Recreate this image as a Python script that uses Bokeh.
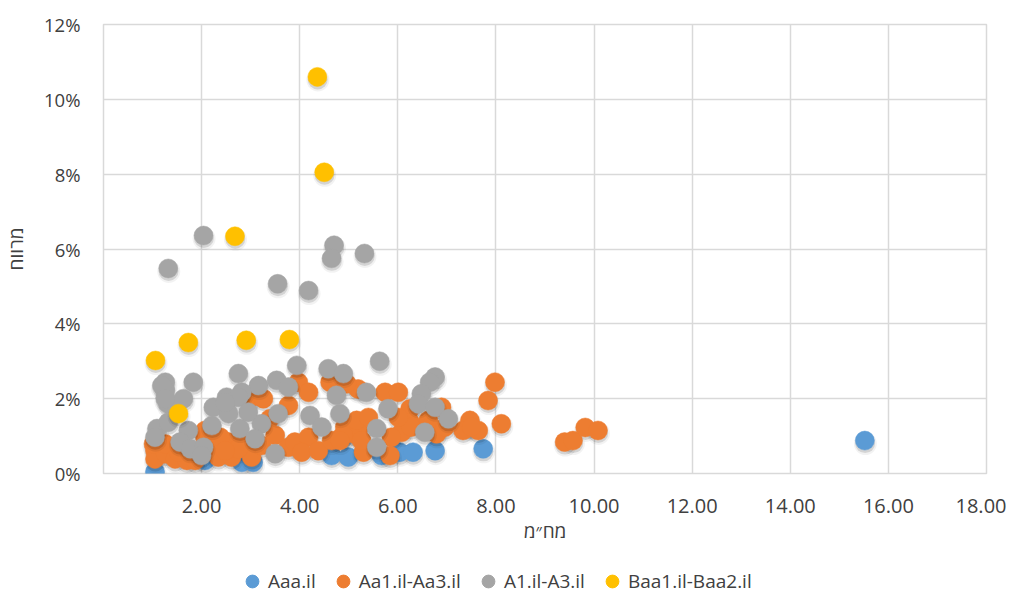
from bokeh.plotting import figure
from bokeh.layouts import column
from bokeh.models import (ColumnDataSource, FixedTicker, NumeralTickFormatter,
                          Legend, LegendItem, Range1d)
from bokeh.transform import dodge
from bokeh.embed import file_html
from bokeh.resources import INLINE

# ---------------- data ----------------
series_names = ["Aaa.il", "Aa1.il-Aa3.il", "A1.il-A3.il", "Baa1.il-Baa2.il"]
series_colors = ["#5B9BD5", "#ED7D31", "#A5A5A5", "#FFC000"]

aaa_x = [1.05, 2.07, 2.82, 3.05, 4.65, 4.99, 5.67, 6.04, 6.31, 6.76, 7.74, 15.52]
aaa_y = [0.0005, 0.0035, 0.0030, 0.0030, 0.0048, 0.0044, 0.0048, 0.0057, 0.0057, 0.0061, 0.0066, 0.0088]

aa_x = [3.97, 4.18, 3.02, 3.26, 3.77, 4.62, 4.92, 1.05, 1.05, 1.26,
        1.46, 1.70, 1.87, 2.34, 2.61, 3.02, 3.22, 3.50, 3.39, 3.77,
        3.90, 4.18, 4.04, 4.38, 4.65, 4.85, 5.12, 2.21, 2.55, 2.82,
        2.07, 1.26, 1.02, 2.07, 2.38, 2.75, 2.48, 1.53,
        7.98, 7.84, 8.11, 7.47, 7.33, 7.64, 7.50, 9.40, 5.74, 6.01,
        5.19, 4.96, 6.25, 6.89, 6.79, 6.62, 6.25, 6.08, 5.87, 5.19,
        4.89, 5.30, 5.84, 5.16, 5.40, 6.27, 6.96, 4.82, 5.26, 6.01,
        9.57, 9.82, 10.08]
aa_y = [0.0244, 0.0217, 0.0204, 0.0200, 0.0182, 0.0244, 0.0124, 0.0061, 0.0039, 0.0053,
        0.0039, 0.0035, 0.0035, 0.0044, 0.0044, 0.0044, 0.0075, 0.0102, 0.0146, 0.0070,
        0.0084, 0.0097, 0.0057, 0.0061, 0.0088, 0.0097, 0.0106, 0.0088, 0.0084, 0.0079,
        0.0097, 0.0079, 0.0079, 0.0115, 0.0097, 0.0066, 0.0061, 0.0057,
        0.0244, 0.0195, 0.0133, 0.0142, 0.0115, 0.0115, 0.0124, 0.0084, 0.0217, 0.0217,
        0.0226, 0.0240, 0.0173, 0.0177, 0.0106, 0.0142, 0.0137, 0.0110, 0.0097, 0.0115,
        0.0102, 0.0057, 0.0048, 0.0142, 0.0150, 0.0124, 0.0124, 0.0088, 0.0088, 0.0150,
        0.0088, 0.0123, 0.0115]

a_x = [2.04, 1.32, 4.70, 4.65, 3.55, 4.18, 5.32, 5.63,
       1.26, 1.83, 1.26, 2.75, 3.16, 3.53, 3.77, 3.94, 4.58, 4.89,
       4.75, 4.82, 1.32, 1.63, 2.24, 2.51, 2.55, 2.82, 3.56, 4.21,
       4.45, 3.22, 2.78, 3.09, 2.21, 1.09, 1.05, 1.32, 1.73, 1.56,
       1.77, 2.04, 3.50, 2.00,
       1.19, 1.26, 2.75, 2.48, 2.95,
       5.36, 5.80, 6.76, 6.65, 6.48, 6.42, 6.76, 7.03, 5.57, 6.55, 5.57]
a_y = [0.0636, 0.0548, 0.0610, 0.0575, 0.0507, 0.0489, 0.0588, 0.0300,
       0.0244, 0.0244, 0.0222, 0.0267, 0.0235, 0.0249, 0.0231, 0.0289, 0.0280, 0.0267,
       0.0209, 0.0160, 0.0186, 0.0200, 0.0177, 0.0204, 0.0160, 0.0217, 0.0160, 0.0155,
       0.0124, 0.0133, 0.0120, 0.0093, 0.0128, 0.0120, 0.0097, 0.0137, 0.0115, 0.0084,
       0.0066, 0.0070, 0.0053, 0.0048,
       0.0235, 0.0200, 0.0204, 0.0190, 0.0164,
       0.0217, 0.0173, 0.0258, 0.0244, 0.0213, 0.0186, 0.0177, 0.0146, 0.0120, 0.0110, 0.0070]

baa_x = [1.06, 1.53, 1.73, 2.68, 2.91, 3.79, 4.36, 4.50]
baa_y = [0.0302, 0.0160, 0.0350, 0.0634, 0.0356, 0.0358, 0.1060, 0.0805]

x_ticks = [2, 4, 6, 8, 10, 12, 14, 16, 18]
y_ticks = [0, 0.02, 0.04, 0.06, 0.08, 0.10, 0.12]

x_title = "מח\u05F4מ"
y_title = "מרווח"

# ---------------- main figure ----------------
X_MIN, X_MAX = 0, 18
Y_MIN, Y_MAX = 0, 0.12
FRAME_W, FRAME_H = 883, 449

p = figure(frame_width=FRAME_W, frame_height=FRAME_H,
           x_range=Range1d(X_MIN, X_MAX), y_range=Range1d(Y_MIN, Y_MAX),
           output_backend="svg", toolbar_location=None,
           min_border_left=100, min_border_right=20, min_border_top=24,
           min_border_bottom=90,
           background_fill_color="white", border_fill_color="white",
           outline_line_color="#d9d9d9", outline_line_width=1.5)

GRID = "#d9d9d9"
TXT = "#404040"
FONT = "Open Sans"

p.xaxis.ticker = FixedTicker(ticks=x_ticks)
p.yaxis.ticker = FixedTicker(ticks=y_ticks)
p.xaxis.formatter = NumeralTickFormatter(format="0.00")
p.yaxis.formatter = NumeralTickFormatter(format="0%")
for ax in (p.xaxis, p.yaxis):
    ax.axis_line_color = None
    ax.major_tick_line_color = None
    ax.minor_tick_line_color = None
    ax.major_tick_out = 0
    ax.major_tick_in = 0
    ax.major_label_text_font = FONT
    ax.major_label_text_color = TXT
    ax.axis_label_text_font = FONT
    ax.axis_label_text_color = TXT
    ax.axis_label_text_font_style = "normal"
    ax.axis_label_text_font_size = "19px"
p.xaxis.major_label_text_font_size = "20px"
p.yaxis.major_label_text_font_size = "18.5px"
p.xaxis.major_label_standoff = 25
p.yaxis.major_label_standoff = 23
p.xaxis.axis_label = x_title
p.yaxis.axis_label = y_title
p.xaxis.axis_label_standoff = 2
p.yaxis.axis_label_standoff = 12

p.xgrid.grid_line_color = GRID
p.ygrid.grid_line_color = GRID
p.xgrid.grid_line_width = 1.5
p.ygrid.grid_line_width = 1.5

# shadow offsets (pixels converted to data units)
px_x = (X_MAX - X_MIN) / FRAME_W
px_y = (Y_MAX - Y_MIN) / FRAME_H

# ---------------- legend strip ----------------
# (its ranges lie outside the data, so only the legend is visible there)
lf = figure(width=1003, height=36, output_backend="svg", toolbar_location=None,
            x_range=Range1d(-20, -19), y_range=Range1d(-20, -19),
            min_border=0, outline_line_color=None,
            background_fill_color="white", border_fill_color="white")
lf.axis.visible = False
lf.grid.visible = False

all_data = [(aaa_x, aaa_y), (aa_x, aa_y), (a_x, a_y), (baa_x, baa_y)]
items = []
for (xs, ys), name, col in zip(all_data, series_names, series_colors):
    src = ColumnDataSource(dict(x=xs, y=ys))
    p.scatter(x=dodge("x", 0.5 * px_x, range=p.x_range),
              y=dodge("y", -3.0 * px_y, range=p.y_range),
              source=src, size=23, marker="circle",
              fill_color="black", fill_alpha=0.05, line_color=None)
    p.scatter(x=dodge("x", 0.3 * px_x, range=p.x_range),
              y=dodge("y", -2.5 * px_y, range=p.y_range),
              source=src, size=20, marker="circle",
              fill_color="black", fill_alpha=0.12, line_color=None)
    p.scatter(x="x", y="y", source=src, size=19, marker="circle",
              fill_color=col, line_color=col, line_width=0.5)
    r = lf.scatter(x="x", y="y", source=src, size=13, marker="circle",
                   fill_color=col, line_color=col)
    items.append(LegendItem(label=name, renderers=[r]))

legend = Legend(items=items, orientation="horizontal", location=(133, 2),
                glyph_width=32, glyph_height=32, label_standoff=0, spacing=11,
                padding=0, margin=0, border_line_color=None,
                background_fill_alpha=0,
                label_text_font=FONT, label_text_font_size="19px",
                label_text_color=TXT)
lf.add_layout(legend)

open("out.html", "w").write(file_html(column(p, lf, spacing=0), INLINE))
